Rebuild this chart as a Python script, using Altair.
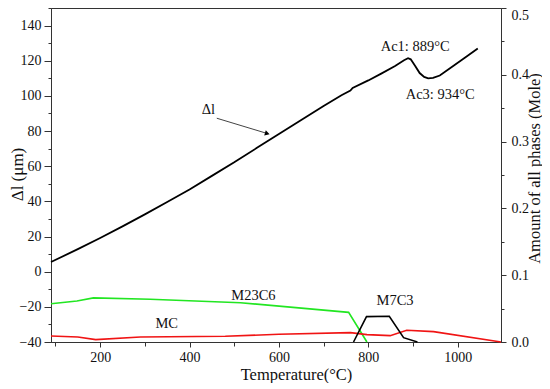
import altair as alt
import pandas as pd

FONT = "Liberation Serif"

# ---- Δl dilatometric curve (left axis, µm) ----
temp_dl = [90, 150, 200, 250, 300, 350, 400, 450, 500, 550, 600, 650, 700, 740,
           760, 765, 800, 830, 860, 880, 889, 895, 905, 915, 925, 934, 945, 960,
           990, 1020, 1045]
dl = [5.5, 12.8, 19.2, 25.8, 32.6, 39.6, 46.8, 54.5, 62.2, 70.3, 78.3, 86.3, 94.2,
      100.4, 103.0, 104.5, 108.8, 112.8, 117.0, 120.3, 121.4, 120.8, 117.0, 113.0,
      110.8, 110.0, 110.2, 111.6, 117.0, 122.4, 127.0]

# ---- phase amounts (right axis, mole) ----
temp_m23c6 = [90, 148, 185, 312, 514, 756, 797]
m23c6 = [0.0573, 0.0614, 0.0660, 0.0639, 0.0588, 0.0444, 0.0]

temp_mc = [90, 150, 190, 290, 480, 600, 760, 797, 849, 886, 946, 1097]
mc = [0.0090, 0.0075, 0.0035, 0.0075, 0.0085, 0.0115, 0.0140, 0.0110, 0.0095,
      0.0175, 0.0155, 0.0]

temp_m7c3 = [767, 796, 847, 879, 910]
m7c3 = [0.0, 0.038, 0.0385, 0.0065, 0.0]

phase_names = ["M23C6", "MC", "M7C3"]
phase_colors = ["#22e622", "#f01414", "#000000"]

# ---- annotations (left-axis units) ----
label_text = ["Δl", "Ac1: 889°C", "Ac3: 934°C", "M23C6", "MC", "M7C3"]
label_temp = [442, 905, 961, 543, 349, 860]
label_val = [92.2, 128.0, 100.7, -13.9, -30.0, -16.7]

arrow_temp = [461, 574]
arrow_val = [87.3, 78.6]

X_DOMAIN = [90, 1097]
YL_DOMAIN = [-40, 150]
YR_DOMAIN = [0, 0.5]
W, H = 450, 334

dl_df = pd.DataFrame({"T": temp_dl, "v": dl})
phase_df = pd.concat([
    pd.DataFrame({"T": temp_m23c6, "m": m23c6, "phase": "M23C6"}),
    pd.DataFrame({"T": temp_mc, "m": mc, "phase": "MC"}),
    pd.DataFrame({"T": temp_m7c3, "m": m7c3, "phase": "M7C3"}),
], ignore_index=True)
label_df = pd.DataFrame({"T": label_temp, "v": label_val, "label": label_text})
arrow_df = pd.DataFrame({"T": arrow_temp, "v": arrow_val})
head_df = arrow_df.iloc[[-1]]

common_axis = dict(
    labelFont=FONT, labelFontSize=14, labelColor="#111",
    titleFont=FONT, titleFontWeight="normal", titleColor="#111",
    domainColor="#333", tickColor="#333", grid=False,
    labelOverlap=False, labelFlush=False,
)

x_axis = alt.Axis(
    values=list(range(100, 1100, 100)),
    labelExpr="datum.value % 200 === 0 ? datum.label : ''",
    format="d",
    tickSize={"condition": {"test": "datum.value % 200 === 0", "value": 5}, "value": 4},
    labelPadding=3,
    title="Temperature(°C)", titleFontSize=16.5, titleX=245, titleY=37,
    titleBaseline="alphabetic", titleAlign="center",
    **common_axis,
)

yl_axis = alt.Axis(
    values=list(range(-40, 151, 10)),
    labelExpr="datum.value % 20 === 0 ? datum.label : ''",
    tickSize={"condition": {"test": "datum.value % 20 === 0", "value": 7}, "value": 3},
    labelPadding=3,
    title="Δl (μm)", titleFontSize=17, titleAngle=270, titleX=-34, titleY=166,
    titleBaseline="middle", titleAlign="center",
    **common_axis,
)

yr_axis = alt.Axis(
    orient="right",
    values=[round(i * 0.05, 2) for i in range(11)],
    labelExpr="abs(datum.value*10 - round(datum.value*10)) < 0.001 ? format(datum.value, '.1f') : ''",
    tickSize={"condition": {"test": "abs(datum.value*10 - round(datum.value*10)) < 0.001", "value": 5}, "value": 3},
    labelBaseline={"condition": {"test": "datum.value > 0.49", "value": "top"}, "value": "middle"},
    labelPadding=5,
    title="Amount of all phases (Mole)", titleFontSize=16.5, titleAngle=270,
    titleX=33, titleY=160, titleBaseline="middle", titleAlign="center",
    **common_axis,
)

xs = alt.Scale(domain=X_DOMAIN, nice=False, zero=False)
yls = alt.Scale(domain=YL_DOMAIN, nice=False, zero=False)
yrs = alt.Scale(domain=YR_DOMAIN, nice=False, zero=False)


def xl():
    return alt.X("T:Q", scale=xs, axis=x_axis)


def yl():
    return alt.Y("v:Q", scale=yls, axis=yl_axis)


dl_line = alt.Chart(dl_df).mark_line(color="black", strokeWidth=1.8).encode(x=xl(), y=yl())

shaft = alt.Chart(arrow_df).mark_line(color="#444", strokeWidth=1).encode(x=xl(), y=yl())

head = alt.Chart(head_df).mark_point(
    shape="triangle-right", angle=17, size=30, filled=True, color="black", opacity=1
).encode(x=xl(), y=yl())

texts = alt.Chart(label_df).mark_text(
    font=FONT, fontSize=14.5, color="#111", align="center", baseline="middle"
).encode(x=xl(), y=yl(), text="label:N")

left = alt.layer(dl_line, shaft, head, texts)

right = alt.Chart(phase_df).mark_line(strokeWidth=1.6).encode(
    x=xl(),
    y=alt.Y("m:Q", scale=yrs, axis=yr_axis),
    color=alt.Color("phase:N", scale=alt.Scale(domain=phase_names, range=phase_colors), legend=None),
    detail="phase:N",
)

chart = alt.layer(left, right).resolve_scale(y="independent").properties(
    width=W, height=H,
    autosize=alt.AutoSizeParams(type="none"),
    padding={"left": 43, "top": 0, "right": 41, "bottom": 41},
).configure_view(stroke="#333", strokeWidth=1).configure_axis(
    labelFont=FONT, labelFontSize=14, titleFont=FONT,
    titleFontWeight="normal", labelOverlap=False,
)

chart.save("out.html", embed_options={"renderer": "svg", "actions": False})
